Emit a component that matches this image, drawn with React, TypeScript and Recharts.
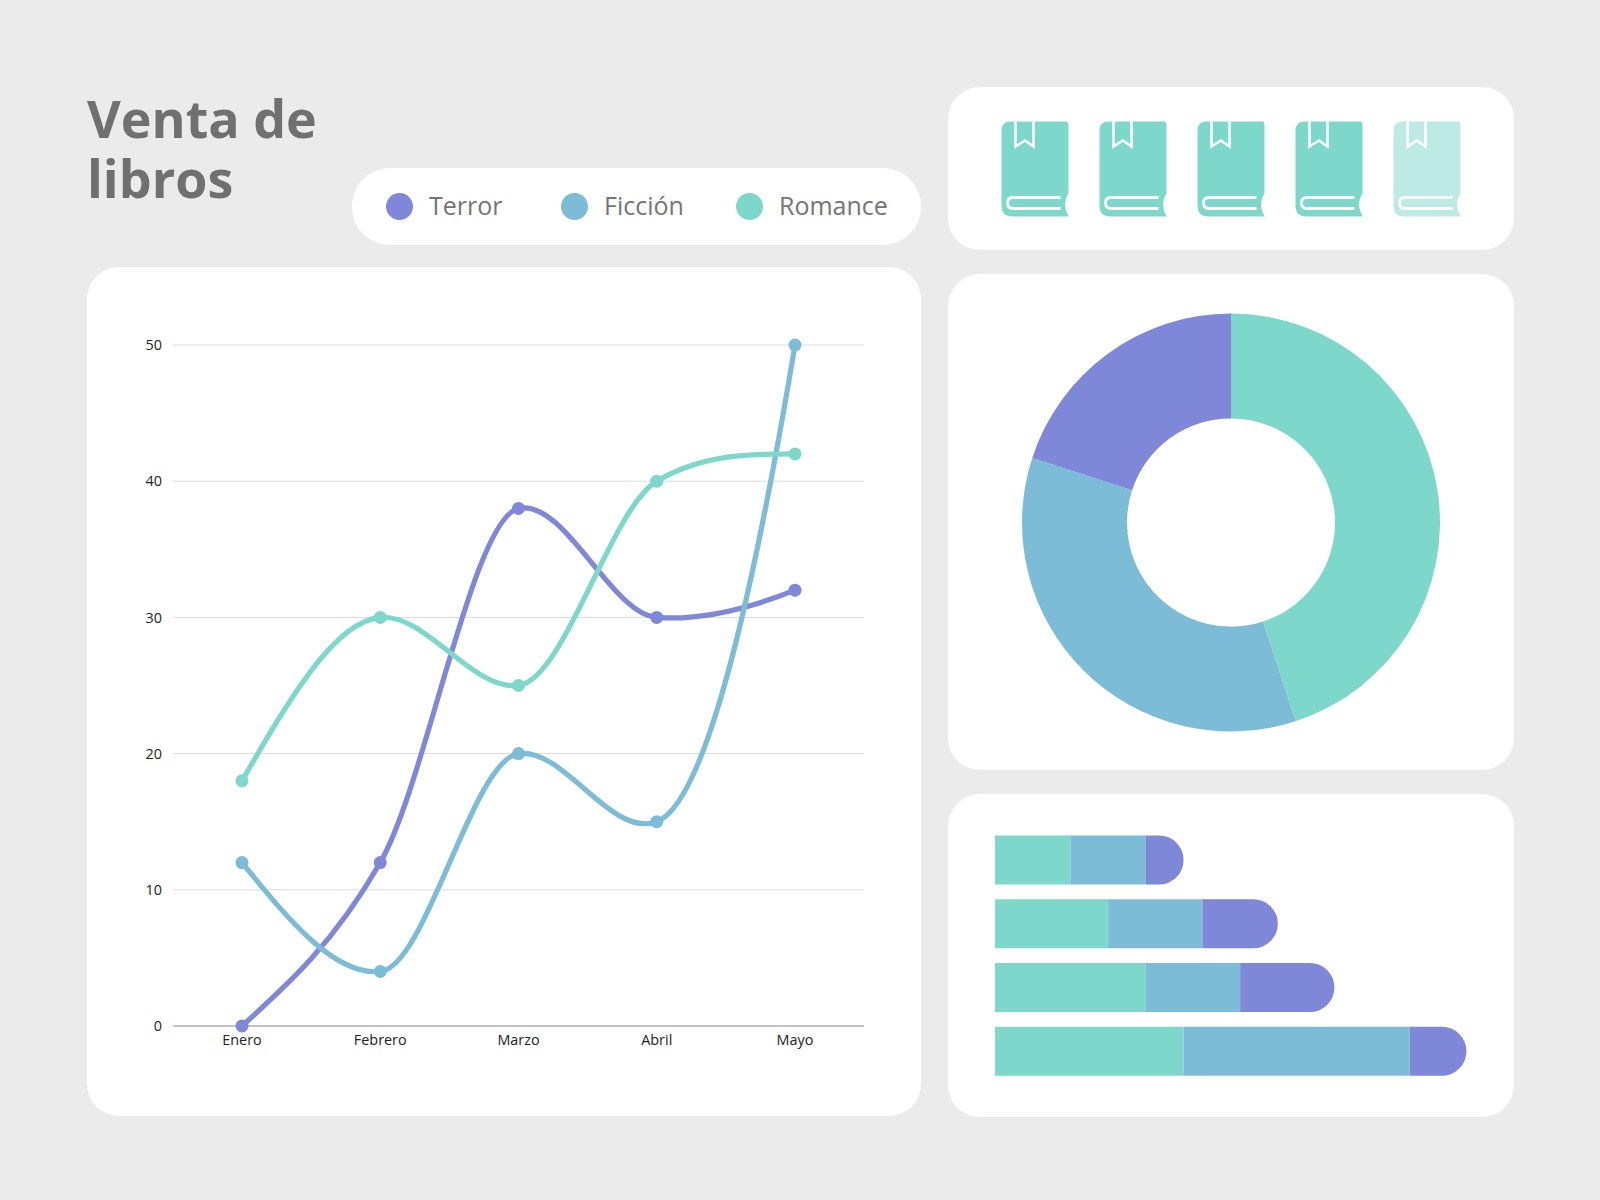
import React from 'react'
import {
    LineChart, Line, XAxis, YAxis, CartesianGrid,
    PieChart, Pie, Cell,
    BarChart, Bar,
    ScatterChart, Scatter,
} from 'recharts'

const TERROR = '#7F87D8'
const FICCION = '#7CBCD6'
const ROMANCE = '#7ED7CB'
const FONT = '"Open Sans", sans-serif'

const months = ['Enero', 'Febrero', 'Marzo', 'Abril', 'Mayo']
const terrorSales = [0, 12, 38, 30, 32]
const ficcionSales = [12, 4, 20, 15, 50]
const romanceSales = [18, 30, 25, 40, 42]
const yTicks = [0, 10, 20, 30, 40, 50]

const shareNames = ['Romance', 'Ficción', 'Terror']
const shareValues = [45, 35, 20]

const rows = ['Fila 1', 'Fila 2', 'Fila 3', 'Fila 4']
const rowRomance = [10, 15, 20, 25]
const rowFiccion = [10, 12.5, 12.5, 30]
const rowTerror = [5, 10, 12.5, 7.5]

const bookSlots = [1, 2, 3, 4, 5]
const bookAlpha = [1, 1, 1, 1, 0.5]

const legendItems = [
    { name: 'Terror', color: TERROR, dot: 399, text: 429 },
    { name: 'Ficción', color: FICCION, dot: 574.5, text: 604 },
    { name: 'Romance', color: ROMANCE, dot: 749, text: 779 },
]

const lineData = months.map((m, i) => ({
    month: m, terror: terrorSales[i], ficcion: ficcionSales[i], romance: romanceSales[i],
}))
const shareData = shareNames.map((n, i) => ({ name: n, value: shareValues[i] }))
const shareColors = [ROMANCE, FICCION, TERROR]
const rowData = rows.map((r, i) => ({
    row: r, romance: rowRomance[i], ficcion: rowFiccion[i], terror: rowTerror[i],
}))
const bookData = bookSlots.map((s, i) => ({ slot: s, y: 1, alpha: bookAlpha[i] }))

// d3-style curve: flat-ish at turning points, quadratic at both ends
function softCurve(context: any) {
    let xs: number[] = []
    let ys: number[] = []
    return {
        areaStart() {},
        areaEnd() {},
        lineStart() { xs = []; ys = [] },
        point(x: number, y: number) { xs.push(+x); ys.push(+y) },
        lineEnd() {
            const n = xs.length
            if (!n) return
            context.moveTo(xs[0], ys[0])
            const s: number[] = []
            for (let i = 0; i < n - 1; i++) s.push((ys[i + 1] - ys[i]) / (xs[i + 1] - xs[i]))
            const m: number[] = new Array(n).fill(0)
            for (let i = 1; i < n - 1; i++) {
                const a = s[i - 1]
                const b = s[i]
                m[i] = a * b > 0 ? ((2 * a * b) / (a + b) + (a + b) / 2) / 2 : (a + b) / 8
            }
            m[0] = (3 * s[0] - m[1]) / 2
            m[n - 1] = ((3 * s[n - 2] - m[n - 2]) / 2) * 1.2
            for (let i = 0; i < n - 1; i++) {
                const h = (xs[i + 1] - xs[i]) / 3
                context.bezierCurveTo(xs[i] + h, ys[i] + m[i] * h, xs[i + 1] - h, ys[i + 1] - m[i + 1] * h, xs[i + 1], ys[i + 1])
            }
        },
    }
}

function Card({ x, y, w, h, r = 32 }: { x: number; y: number; w: number; h: number; r?: number }) {
    return <div style={{ position: 'absolute', left: x, top: y, width: w, height: h, borderRadius: r, background: '#fff' }}/>
}

function Book(props: any) {
    const { cx, cy, payload } = props
    return (
        <g transform={`translate(${cx - 33.5},${cy - 47.5})`} opacity={payload.alpha}>
            <path
                d="M9 0 H64 Q67 0 67 3 V72 A20 20 0 0 0 67.5 95 H11 Q0 95 0 84 V9 Q0 0 9 0 Z"
                fill={ROMANCE}
            />
            <path d="M14 0 V25 L23.5 19 L32 25 V0" fill="none" stroke="#fff" strokeWidth={2.6}/>
            <path d="M59 76 H11.5 Q6 76 6 81.5 Q6 87 11.5 87 H59" fill="none" stroke="#fff" strokeWidth={2.8}/>
        </g>
    )
}

// round end is a full half circle, the default radius clamp would shrink it on short bars
function RoundEnd(props: any) {
    const { x, y, width, height, fill } = props
    const r = Math.min(height / 2, width)
    const d = `M${x} ${y} H${x + width - r} A${r} ${r} 0 0 1 ${x + width} ${y + r} V${y + height - r} A${r} ${r} 0 0 1 ${x + width - r} ${y + height} H${x} Z`
    return <path d={d} fill={fill}/>
}

export default function App() {
    return (
        <div style={{ position: 'absolute', left: 0, top: 0, width: 1600, height: 1200, background: '#EBEBEB', fontFamily: FONT, overflow: 'hidden' }}>
            <div style={{ position: 'absolute', left: 87, top: 88, height: 60, fontSize: 52, lineHeight: '60px', fontWeight: 700, color: '#707070' }}>Venta de</div>
            <div style={{ position: 'absolute', left: 87, top: 148, height: 60, fontSize: 52, lineHeight: '60px', fontWeight: 700, color: '#707070' }}>libros</div>

            <Card x={352} y={168} w={569} h={77} r={38}/>
            {legendItems.map(l => (
                <React.Fragment key={l.name}>
                    <div style={{ position: 'absolute', left: l.dot - 13.5, top: 193, width: 27, height: 27, borderRadius: '50%', background: l.color }}/>
                    <div style={{ position: 'absolute', left: l.text, top: 187, fontSize: 25, lineHeight: '36px', color: '#757575' }}>{l.name}</div>
                </React.Fragment>
            ))}

            <Card x={87} y={267} w={834} h={849}/>
            <div style={{ position: 'absolute', left: 87, top: 267 }}>
                <LineChart width={834} height={849} data={lineData} margin={{ top: 78, right: 57, bottom: 60, left: 0 }}>
                    <CartesianGrid vertical={false} stroke="#DADADA" strokeWidth={1}/>
                    <XAxis
                        dataKey="month"
                        padding={{ left: 69, right: 69 }}
                        height={30}
                        tickLine={false}
                        axisLine={{ stroke: '#B4B4B4', strokeWidth: 1.5 }}
                        tick={{ fill: '#222', fontSize: 14.4, fontFamily: FONT }}
                        tickMargin={3}
                        interval={0}
                    />
                    <YAxis
                        domain={[0, 50]}
                        ticks={yTicks}
                        width={86}
                        tickLine={false}
                        axisLine={false}
                        tick={{ fill: '#222', fontSize: 14.4, fontFamily: FONT }}
                        tickMargin={5}
                    />
                    <Line type={softCurve as any} dataKey="terror" stroke={TERROR} strokeWidth={5.2} dot={{ r: 6.5, fill: TERROR, stroke: TERROR, strokeWidth: 0 }} isAnimationActive={false}/>
                    <Line type={softCurve as any} dataKey="ficcion" stroke={FICCION} strokeWidth={5.2} dot={{ r: 6.5, fill: FICCION, stroke: FICCION, strokeWidth: 0 }} isAnimationActive={false}/>
                    <Line type={softCurve as any} dataKey="romance" stroke={ROMANCE} strokeWidth={5.2} dot={{ r: 6.5, fill: ROMANCE, stroke: ROMANCE, strokeWidth: 0 }} isAnimationActive={false}/>
                </LineChart>
            </div>

            <Card x={948} y={87} w={566} h={163}/>
            <div style={{ position: 'absolute', left: 985.8, top: 118.8 }}>
                <ScatterChart width={490} height={100} margin={{ top: 0, right: 0, bottom: 0, left: 0 }}>
                    <XAxis type="number" dataKey="slot" domain={[0.5, 5.5]} hide/>
                    <YAxis type="number" dataKey="y" domain={[0, 2]} hide/>
                    <Scatter data={bookData} shape={Book} isAnimationActive={false}/>
                </ScatterChart>
            </div>

            <Card x={948} y={274} w={566} h={496}/>
            <div style={{ position: 'absolute', left: 948, top: 274 }}>
                <PieChart width={566} height={496} margin={{ top: 0, right: 0, bottom: 0, left: 0 }}>
                    <Pie
                        data={shareData}
                        dataKey="value"
                        nameKey="name"
                        cx={283}
                        cy={248.5}
                        innerRadius={104}
                        outerRadius={209}
                        startAngle={90}
                        endAngle={-270}
                        stroke="none"
                        isAnimationActive={false}
                    >
                        {shareData.map((d, i) => <Cell key={d.name} fill={shareColors[i]}/>)}
                    </Pie>
                </PieChart>
            </div>

            <Card x={948} y={794} w={566} h={323}/>
            <div style={{ position: 'absolute', left: 995, top: 828 }}>
                <BarChart width={528} height={255} data={rowData} layout="vertical" barCategoryGap={7.5} margin={{ top: 0, right: 0, bottom: 0, left: 0 }}>
                    <XAxis type="number" domain={[0, 70]} hide/>
                    <YAxis type="category" dataKey="row" hide/>
                    <Bar dataKey="romance" stackId="a" fill={ROMANCE} isAnimationActive={false}/>
                    <Bar dataKey="ficcion" stackId="a" fill={FICCION} isAnimationActive={false}/>
                    <Bar dataKey="terror" stackId="a" fill={TERROR} shape={RoundEnd} isAnimationActive={false}/>
                </BarChart>
            </div>
        </div>
    )
}
